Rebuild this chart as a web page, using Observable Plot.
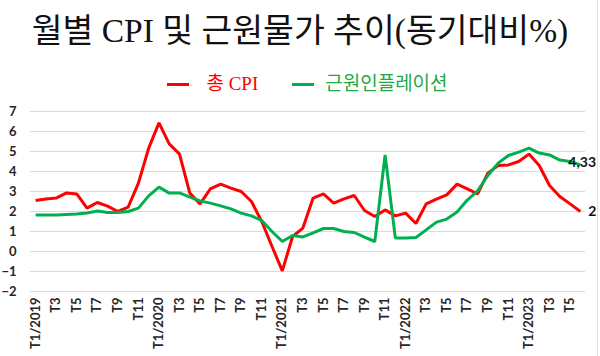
<!DOCTYPE html>
<html>
<head>
<meta charset="utf-8">
<script src="https://cdn.jsdelivr.net/npm/d3@7"></script>
<script src="https://cdn.jsdelivr.net/npm/@observablehq/plot@0.6"></script>
<style>
  html, body { margin: 0; padding: 0; background: #fff; }
  body { position: relative; width: 600px; height: 356px; overflow: hidden; }
  #title { position: absolute; top: 0; left: 0; width: 600px; height: 62px; line-height: 62px;
    text-align: center; font-family: "Liberation Serif", "Noto Sans CJK KR", serif; font-size: 33.5px; color: #111; }
  #legend { position: absolute; top: 72px; left: 0; width: 600px; height: 24px; line-height: 24px;
    display: flex; justify-content: center; align-items: center;
    font-family: "Liberation Serif", "Noto Sans CJK KR", serif; font-size: 19px; padding-left: 15px; box-sizing: border-box; }
  .sw { display: inline-block; width: 22px; height: 3px; }
  #chart { position: absolute; top: 100px; left: 0; }
  #edge { position: absolute; left: 597px; top: 0; width: 1px; height: 356px; background: #e3e3e3; }
</style>
</head>
<body>
<div id="title"></div>
<div id="legend"></div>
<div id="chart"></div>
<div id="edge"></div>
<script>
const titleText = "월별 CPI 및 근원물가 추이(동기대비%)";
const seriesNames = ["총 CPI", "근원인플레이션"];
const seriesColors = ["#ff0000", "#00b050"];

const months = [
  "T1/2019","T2","T3","T4","T5","T6","T7","T8","T9","T10","T11","T12",
  "T1/2020","T2","T3","T4","T5","T6","T7","T8","T9","T10","T11","T12",
  "T1/2021","T2","T3","T4","T5","T6","T7","T8","T9","T10","T11","T12",
  "T1/2022","T2","T3","T4","T5","T6","T7","T8","T9","T10","T11","T12",
  "T1/2023","T2","T3","T4","T5","T6"
];

const cpi = [
  2.55,2.63,2.67,2.93,2.88,2.17,2.45,2.27,2.0,2.22,3.42,5.17,
  6.43,5.38,4.87,2.92,2.38,3.13,3.37,3.17,3.0,2.5,1.5,0.25,
  -0.97,0.75,1.17,2.67,2.88,2.42,2.63,2.8,2.05,1.75,2.08,1.78,
  1.92,1.4,2.38,2.62,2.83,3.37,3.13,2.88,3.92,4.3,4.33,4.5,
  4.87,4.3,3.3,2.75,2.38,2.0
];

const core = [
  1.83,1.82,1.82,1.85,1.88,1.93,2.02,1.95,1.95,2.0,2.17,2.78,
  3.22,2.92,2.93,2.72,2.53,2.42,2.28,2.13,1.92,1.78,1.55,1.0,
  0.5,0.8,0.73,0.93,1.15,1.15,1.0,0.95,0.72,0.5,4.83,0.67,
  0.67,0.7,1.08,1.47,1.62,1.97,2.57,3.03,3.8,4.42,4.8,4.97,
  5.17,4.92,4.83,4.57,4.5,4.33
];

const endLabels = ["2", "4,33"];
const yTicks = [-2,-1,0,1,2,3,4,5,6,7];

document.getElementById("title").textContent = titleText;
const legend = document.getElementById("legend");
seriesNames.forEach((name, k) => {
  const sw = document.createElement("span");
  sw.className = "sw";
  sw.style.background = seriesColors[k];
  sw.style.marginLeft = k === 0 ? "0px" : "34px";
  sw.style.marginRight = k === 0 ? "17px" : "11px";
  const t = document.createElement("span");
  t.textContent = name;
  t.style.color = k === 0 ? "#ff0000" : "#1fa846";
  legend.appendChild(sw);
  legend.appendChild(t);
});

const rows = [];
months.forEach((m, i) => {
  rows.push({i, v: cpi[i], s: seriesNames[0]});
  rows.push({i, v: core[i], s: seriesNames[1]});
});
const last = months.length - 1;
const ends = [
  {i: last, v: cpi[last], t: endLabels[0], dx: 8, dy: 0},
  {i: last, v: core[last], t: endLabels[1], dx: -12, dy: -2}
];

const chart = Plot.plot({
  width: 600,
  height: 256,
  marginTop: 11,
  marginBottom: 65,
  marginLeft: 30,
  marginRight: 15,
  style: {fontFamily: "Lato, 'Open Sans', sans-serif", fontSize: "13px", fontWeight: "bold", color: "#262626", background: "transparent"},
  x: {domain: [-0.5, last + 0.5]},
  y: {domain: [-2, 7]},
  color: {domain: seriesNames, range: seriesColors},
  marks: [
    Plot.gridY(yTicks, {stroke: "#d9d9d9", strokeOpacity: 1, strokeWidth: 1}),
    Plot.axisY(yTicks, {tickSize: 0, tickPadding: 14, label: null, fontSize: 13}),
    Plot.axisX(d3.range(0, months.length, 2), {tickSize: 0, tickPadding: 6, tickRotate: -90,
      tickFormat: i => months[i], label: null, fontSize: 13}),
    Plot.line(rows, {x: "i", y: "v", z: "s", stroke: "s", strokeWidth: 3, strokeLinejoin: "miter", strokeLinecap: "butt"}),
    Plot.text(ends.filter(d => d.dx > 0), {x: "i", y: "v", text: "t", dx: 8, textAnchor: "start", fontSize: 14, fontWeight: "bold", fill: "#111"}),
    Plot.text(ends.filter(d => d.dx < 0), {x: "i", y: "v", text: "t", dx: -12, dy: -2, textAnchor: "start", fontSize: 14, fontWeight: "bold", fill: "#111"})
  ]
});
document.getElementById("chart").appendChild(chart);
</script>
</body>
</html>
